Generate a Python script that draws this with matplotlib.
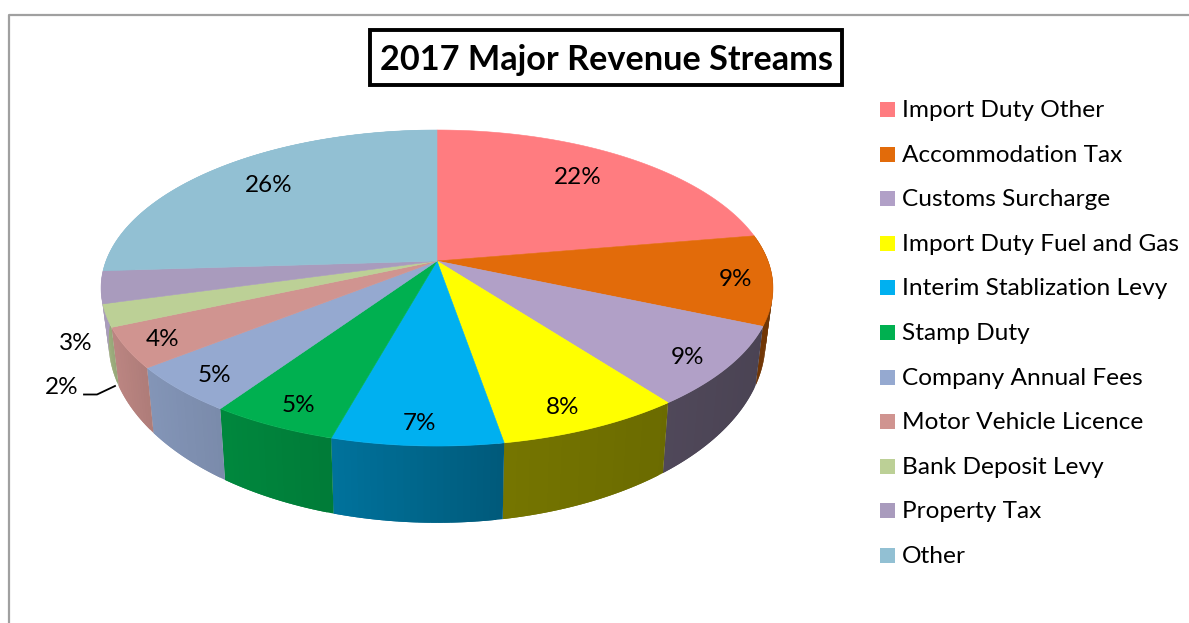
import numpy as np
import matplotlib
matplotlib.use('Agg')
import matplotlib.pyplot as plt
from matplotlib.patches import Polygon, Rectangle

plt.rcParams['font.family'] = ['Lato', 'DejaVu Sans']

# slices, clockwise from 12 o'clock
categories = ['Import Duty Other', 'Accommodation Tax', 'Customs Surcharge',
              'Import Duty Fuel and Gas', 'Interim Stablization Levy', 'Stamp Duty',
              'Company Annual Fees', 'Motor Vehicle Licence', 'Bank Deposit Levy',
              'Property Tax', 'Other']
values = [22.3, 9.2, 8.2, 7.6, 7.0, 5.2, 4.8, 4.1, 2.3, 3.3, 26.0]
pct_labels = ['22%', '9%', '9%', '8%', '7%', '5%', '5%', '4%', '2%', '3%', '26%']
colors = ['#FF7C80', '#E26B0A', '#B1A0C7', '#FFFF00', '#00B0F0', '#00B050',
          '#95A9D0', '#D09490', '#BCD096', '#A99BBD', '#92C0D3']
# how dark the outer wall gets, left and right end of each slice
wall_left = [1, .50, .45, .46, .65, .77, .88, .90, .85, 1, 1]
wall_right = [1, .50, .42, .42, .51, .70, .82, .84, .80, 1, 1]
label_pos = [(578, 178), (735, 280), (687, 358), (563, 407), (419, 423), (298, 406),
             (214, 375), (163, 340), (62, 388), (76, 344), (269, 186)]

# pie projection, in picture pixels
CX, CY = 437, 261
A, B, K = 331, 153.4, 0.171


def top(t):
    u, v = np.sin(t), np.cos(t)
    return CX + A * u / (1 + K * v), CY - B * v / (1 + K * v)


def bottom(t):
    x, y = top(t)
    return CX + 0.978 * (x - CX), 310 + 1.15 * (y - CY)


fig = plt.figure(figsize=(11.89, 6.23), dpi=100)
ax = fig.add_axes([0, 0, 1, 1])
ax.set_xlim(0, 1189)
ax.set_ylim(623, 0)
ax.axis('off')

# chart frame
ax.plot([8.5, 8.5, 1189], [623, 15, 15], color='#A0A0A0', lw=1.6)

edges = np.radians(np.cumsum([0] + values) * 3.6)

# outer walls first, the top face is painted over them
for i in range(len(values)):
    t0, t1 = edges[i], edges[i + 1]
    if t1 <= np.pi / 2 or t0 >= np.radians(270):
        continue
    n = max(int((t1 - t0) * 60), 2)
    ts = np.linspace(t0, t1, n + 1)
    x_a, x_b = top(t0)[0], top(t1)[0]
    for j in range(n):
        xm = top((ts[j] + ts[j + 1]) / 2)[0]
        f = (xm - min(x_a, x_b)) / abs(x_a - x_b)
        m = wall_left[i] + (wall_right[i] - wall_left[i]) * f
        c = np.array(matplotlib.colors.to_rgb(colors[i])) * m
        # each strip runs under the next one so no seams show
        seg = np.linspace(ts[j], ts[min(j + 2, n)], 6)
        xt, yt = top(seg)
        xb, yb = bottom(seg)
        pts = np.column_stack([np.r_[xt, xb[::-1]], np.r_[yt, yb[::-1]]])
        ax.add_patch(Polygon(pts, closed=True, fc=c, ec='none'))

for i in range(len(values)):
    ts = np.linspace(edges[i], edges[i + 1], 120)
    x, y = top(ts)
    pts = np.column_stack([np.r_[CX, x], np.r_[CY, y]])
    ax.add_patch(Polygon(pts, closed=True, fc=colors[i], ec=colors[i], lw=0.4))

for lab, (x, y) in zip(pct_labels, label_pos):
    ax.text(x, y, lab, fontsize=17.5, ha='center', va='center', color='black')

# leader for the small slice
ax.plot([84, 97, 115], [394.5, 394.5, 386], color='black', lw=1.3)

ax.text(606, 60, '2017 Major Revenue Streams', fontsize=24.7, fontweight='bold',
        ha='center', va='center', color='black')
ax.add_patch(Rectangle((370, 30), 472, 55, fc='none', ec='black', lw=2.8))

# legend
for i, name in enumerate(categories):
    yy = 109.5 + i * 44.6
    ax.add_patch(Rectangle((880, yy - 7.5), 15, 15, fc=colors[i], ec='none'))
    ax.text(902, yy + 1, name, fontsize=17.6, ha='left', va='center', color='black')

fig.savefig('out.png', dpi=100)
